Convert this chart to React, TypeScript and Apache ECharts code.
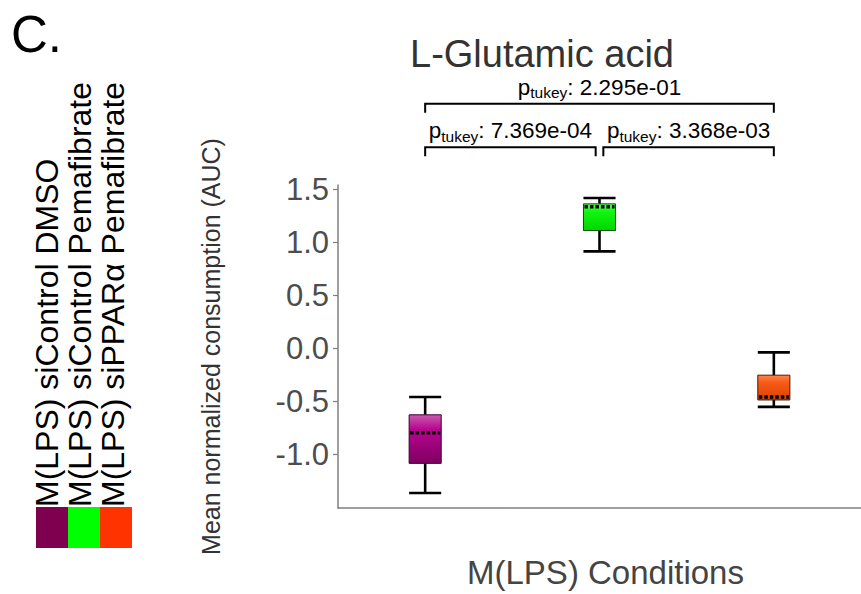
import React, { useEffect, useRef } from 'react';
import * as echarts from 'echarts';

// ---- data ----
const categories = ['M(LPS) siControl DMSO', 'M(LPS) siControl Pemafibrate', 'M(LPS) siPPARα Pemafibrate'];
const whiskerLow = [-1.364, 0.916, -0.551];
const q1 = [-1.084, 1.112, -0.486];
const medians = [-0.794, 1.336, -0.458];
const q3 = [-0.626, 1.364, -0.252];
const whiskerHigh = [-0.458, 1.42, -0.037];
const yTicks = [-1.0, -0.5, 0.0, 0.5, 1.0, 1.5];
const compFrom = [0, 1, 0];
const compTo = [1, 2, 2];
const compLevel = [0, 0, 1];
const compP = ['7.369e-04', '3.368e-03', '2.295e-01'];

// ---- styles ----
const FONT = "'Liberation Sans', Arial, sans-serif";
const legendColors = ['#800050', '#00ff00', '#ff3300'];
const gradTop = ['#c95cae', '#5cff5c', '#ff8448'];
const gradMid = ['#b8048e', '#10f510', '#f85a18'];
const gradBottom = ['#7e0062', '#00d600', '#dc4200'];
const boxBorder = ['#3a0030', '#0a4a0a', '#4a1a00'];
const bracketLevelY = [1.897, 2.308];
const bracketTip = 0.084;

export default function App() {
  const ref = useRef<HTMLDivElement>(null);
  useEffect(() => {
    document.body.style.margin = '0';
    const chart = echarts.init(ref.current!, null, { renderer: 'svg' });

    const boxData = categories.map((_, i) => [i, whiskerLow[i], q1[i], medians[i], q3[i], whiskerHigh[i]]);
    const compData = compFrom.map((f, k) => [f, compTo[k], compLevel[k], k]);

    const sharedEnd = (idx: number, level: number) =>
      compLevel.filter((l, j) => l === level && (compFrom[j] === idx || compTo[j] === idx)).length > 1;

    const option: any = {
      animation: false,
      title: {
        text: 'L-Glutamic acid',
        left: 410,
        top: 35,
        padding: 0,
        textStyle: { fontFamily: FONT, fontSize: 38, fontWeight: 'normal', color: '#333' },
      },
      grid: { left: 338, right: 0, top: 185, bottom: 83 },
      xAxis: {
        type: 'category',
        data: categories,
        boundaryGap: true,
        axisLine: { onZero: false, lineStyle: { color: '#7f7f7f', width: 1.5 } },
        axisTick: { show: false },
        axisLabel: { show: false },
        splitLine: { show: false },
        name: 'M(LPS) Conditions',
        nameLocation: 'middle',
        nameGap: 48,
        nameTextStyle: { fontFamily: FONT, fontSize: 33, color: '#444', padding: [0, 0, 0, 12] },
      },
      yAxis: {
        type: 'value',
        min: -1.505,
        max: 1.542,
        axisLine: { show: true, onZero: false, lineStyle: { color: '#7f7f7f', width: 1.5 } },
        axisTick: { show: true, length: 5, customValues: yTicks, lineStyle: { color: '#7f7f7f', width: 1.2 } },
        axisLabel: {
          customValues: yTicks,
          formatter: (v: number) => v.toFixed(1),
          fontFamily: FONT,
          fontSize: 31,
          color: '#4d4d4d',
          margin: 9,
        },
        splitLine: { show: false },
        name: 'Mean normalized consumption (AUC)',
        nameLocation: 'middle',
        nameRotate: 90,
        nameGap: 115,
        nameTextStyle: { fontFamily: FONT, fontSize: 25, color: '#333' },
      },
      graphic: [
        {
          type: 'text', x: 11, y: 34,
          style: { text: 'C.', fontFamily: FONT, fontSize: 51, fill: '#000', align: 'left', verticalAlign: 'middle', textAlign: 'left', textVerticalAlign: 'middle' },
        },
        ...categories.map((c, i) => ({
          type: 'text', x: 47 + i * 33, y: 507, rotation: Math.PI / 2,
          style: { text: c, fontFamily: FONT, fontSize: 32, fill: '#000', align: 'left', verticalAlign: 'middle', textAlign: 'left', textVerticalAlign: 'middle' },
        })),
        ...categories.map((_, i) => ({
          type: 'rect', shape: { x: 36 + i * 32, y: 507, width: 32, height: 41 },
          style: { fill: legendColors[i] },
        })),
      ],
      series: [
        {
          type: 'custom',
          name: 'boxes',
          data: boxData,
          encode: { x: 0, y: [1, 2, 3, 4, 5] },
          renderItem: (params: any, api: any) => {
            const idx = api.value(0) as number;
            const lo = api.coord([idx, api.value(1)]);
            const b1 = api.coord([idx, api.value(2)]);
            const md = api.coord([idx, api.value(3)]);
            const b3 = api.coord([idx, api.value(4)]);
            const hi = api.coord([idx, api.value(5)]);
            const band = api.size([1, 0])[0];
            const half = band * 0.092;
            const cx = lo[0];
            const lineStyle = { stroke: '#000', lineWidth: 2.6 };
            return {
              type: 'group',
              children: [
                { type: 'line', shape: { x1: cx, y1: hi[1], x2: cx, y2: b3[1] }, style: lineStyle },
                { type: 'line', shape: { x1: cx, y1: b1[1], x2: cx, y2: lo[1] }, style: lineStyle },
                { type: 'line', shape: { x1: cx - half, y1: hi[1], x2: cx + half, y2: hi[1] }, style: lineStyle },
                { type: 'line', shape: { x1: cx - half, y1: lo[1], x2: cx + half, y2: lo[1] }, style: lineStyle },
                {
                  type: 'rect',
                  shape: { x: cx - half, y: b3[1], width: half * 2, height: b1[1] - b3[1] },
                  style: {
                    fill: new echarts.graphic.LinearGradient(0, 0, 0, 1, [
                      { offset: 0, color: gradTop[idx] },
                      { offset: 0.3, color: gradMid[idx] },
                      { offset: 1, color: gradBottom[idx] },
                    ]),
                    stroke: boxBorder[idx],
                    lineWidth: 1,
                  },
                },
                {
                  type: 'line',
                  shape: { x1: cx - half + 1, y1: md[1], x2: cx + half - 1, y2: md[1] },
                  style: { stroke: '#000', lineWidth: 3.5, lineDash: [3.5, 2] },
                },
              ],
            };
          },
          z: 3,
        },
        {
          type: 'custom',
          name: 'comparisons',
          data: compData,
          clip: false,
          encode: { x: [0, 1], y: 2 },
          renderItem: (params: any, api: any) => {
            const from = api.value(0) as number;
            const to = api.value(1) as number;
            const level = api.value(2) as number;
            const k = api.value(3) as number;
            const band = api.size([1, 0])[0];
            const gap = band * 0.022;
            const yv = bracketLevelY[level];
            const a = api.coord([from, yv]);
            const b = api.coord([to, yv]);
            const tip = api.coord([from, yv - bracketTip]);
            const x1 = a[0] + (sharedEnd(from, level) ? gap : 0);
            const x2 = b[0] - (sharedEnd(to, level) ? gap : 0);
            const y = a[1];
            const ty = tip[1];
            const mainTok = { fontSize: 22.5, fontFamily: FONT, fill: '#000', color: '#000', lineHeight: 27 };
            return {
              type: 'group',
              children: [
                {
                  type: 'polyline',
                  shape: { points: [[x1, ty], [x1, y], [x2, y], [x2, ty]] },
                  style: { stroke: '#000', lineWidth: 2, fill: 'none' },
                },
                {
                  type: 'text',
                  style: {
                    x: (x1 + x2) / 2,
                    y: y - 3,
                    text: `{p|p}{s|tukey}{n|: ${compP[k]}}`,
                    align: 'center',
                    verticalAlign: 'bottom',
                    textAlign: 'center',
                    textVerticalAlign: 'bottom',
                    fill: '#000',
                    rich: {
                      p: mainTok,
                      n: mainTok,
                      s: { fontSize: 15.5, fontFamily: FONT, fill: '#000', color: '#000', verticalAlign: 'bottom' },
                    },
                  },
                },
              ],
            };
          },
          z: 4,
        },
      ],
    };
    chart.setOption(option);
    return () => chart.dispose();
  }, []);
  return <div ref={ref} style={{ width: 861, height: 594 }} />;
}
